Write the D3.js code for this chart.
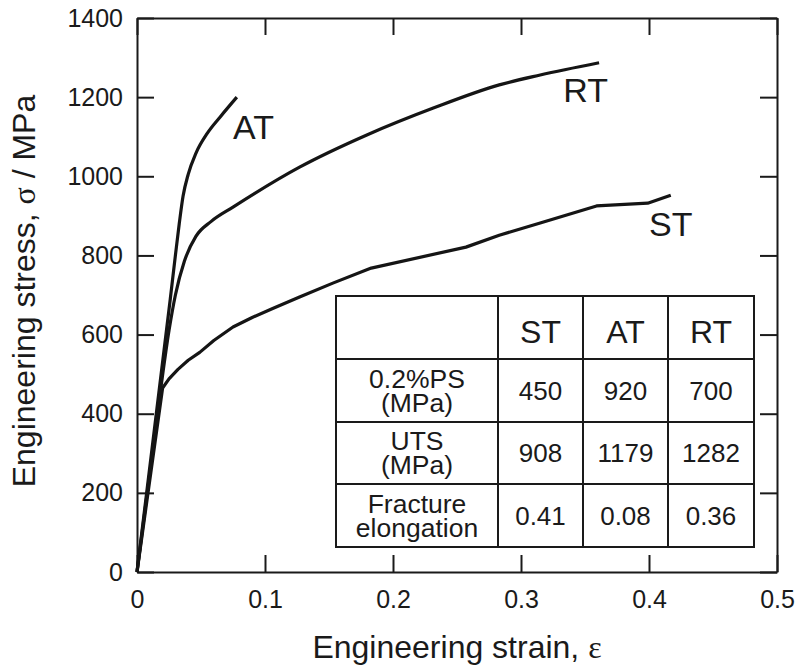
<!DOCTYPE html>
<html>
<head>
<meta charset="utf-8">
<script src="https://cdn.jsdelivr.net/npm/d3@7"></script>
<style>
  body { margin: 0; background: #fff; }
  text { font-family: "Liberation Sans", Arial, Helvetica, sans-serif; fill: #1a1a1a; }
  .greek { font-family: "Liberation Serif", "Times New Roman", serif; }
</style>
</head>
<body>
<svg width="798" height="668"></svg>
<script>
// tick values and labels
const xTicks = [0, 0.1, 0.2, 0.3, 0.4, 0.5];
const xTickLabels = ["0", "0.1", "0.2", "0.3", "0.4", "0.5"];
const yTicks = [0, 200, 400, 600, 800, 1000, 1200, 1400];
const yTickLabels = ["0", "200", "400", "600", "800", "1000", "1200", "1400"];

// stress-strain curves (strain, MPa)
const stStrain = [0, 0.020, 0.025, 0.032, 0.040, 0.049, 0.060, 0.075, 0.090, 0.106, 0.127, 0.153, 0.183, 0.257, 0.283, 0.315, 0.359, 0.399, 0.417];
const stStress = [0, 465, 488, 512, 535, 555, 585, 619, 643, 666, 695, 730, 768, 821, 851, 882, 925, 932, 952];

const atStrain = [0, 0.026, 0.030, 0.033, 0.036, 0.040, 0.046, 0.055, 0.065, 0.078];
const atStress = [0, 690, 800, 880, 950, 1005, 1058, 1109, 1150, 1200];

const rtStrain = [0, 0.018, 0.025, 0.030, 0.037, 0.046, 0.058, 0.075, 0.127, 0.180, 0.232, 0.283, 0.315, 0.361];
const rtStress = [0, 450, 610, 700, 785, 848, 886, 922, 1023, 1105, 1173, 1231, 1256, 1287];

// curve names and where their labels sit (data units)
const curveNames = ["AT", "RT", "ST"];
const labelStrain = [0.075, 0.333, 0.400];
const labelStress = [1094, 1188, 849];

// inset table
const tableCols = ["ST", "AT", "RT"];
const rowLabels = [["0.2%PS", "(MPa)"], ["UTS", "(MPa)"], ["Fracture", "elongation"]];
const psValues = ["450", "920", "700"];
const utsValues = ["908", "1179", "1282"];
const elongValues = ["0.41", "0.08", "0.36"];

const svg = d3.select("svg");
const plotL = 137, plotR = 777, plotT = 18, plotB = 572;

const x = d3.scaleLinear().domain([0, 0.5]).range([plotL, plotR]);
const y = d3.scaleLinear().domain([0, 1400]).range([plotB, plotT]);

// axes, ticks pointing inward on all four sides
function styleAxis(g) {
  g.selectAll("path.domain").attr("stroke", "#1a1a1a").attr("stroke-width", 2);
  g.selectAll(".tick line").attr("stroke", "#1a1a1a").attr("stroke-width", 2);
  g.selectAll(".tick text").attr("font-size", 25).attr("fill", "#1a1a1a")
    .attr("font-family", "Liberation Sans, Arial, sans-serif");
}

svg.append("g")
  .attr("transform", `translate(0,${plotB})`)
  .call(d3.axisBottom(x).tickValues(xTicks).tickFormat((d, i) => xTickLabels[i])
    .tickSizeInner(-17).tickSizeOuter(0).tickPadding(18))
  .call(styleAxis);

svg.append("g")
  .attr("transform", `translate(${plotL},0)`)
  .call(d3.axisLeft(y).tickValues(yTicks).tickFormat((d, i) => yTickLabels[i])
    .tickSizeInner(-17).tickSizeOuter(0).tickPadding(14))
  .call(styleAxis);

svg.append("g")
  .attr("transform", `translate(0,${plotT})`)
  .call(d3.axisTop(x).tickValues(xTicks).tickFormat("")
    .tickSizeInner(-17).tickSizeOuter(0))
  .call(styleAxis);

svg.append("g")
  .attr("transform", `translate(${plotR},0)`)
  .call(d3.axisRight(y).tickValues(yTicks).tickFormat("")
    .tickSizeInner(-17).tickSizeOuter(0))
  .call(styleAxis);

// curves: ST drawn as a polyline, AT and RT smoothed
const curves = [
  { pts: d3.zip(stStrain, stStress), curve: d3.curveLinear },
  { pts: d3.zip(atStrain, atStress), curve: d3.curveMonotoneX },
  { pts: d3.zip(rtStrain, rtStress), curve: d3.curveMonotoneX }
];
svg.append("g")
  .selectAll("path")
  .data(curves)
  .join("path")
    .attr("d", c => d3.line().x(d => x(d[0])).y(d => y(d[1])).curve(c.curve)(c.pts))
    .attr("fill", "none")
    .attr("stroke", "#151515")
    .attr("stroke-width", 3.2)
    .attr("stroke-linejoin", "round");

svg.append("g")
  .selectAll("text")
  .data(curveNames)
  .join("text")
    .attr("x", (d, i) => x(labelStrain[i]))
    .attr("y", (d, i) => y(labelStress[i]))
    .attr("font-size", 34)
    .text(d => d);

// table
const colX = [336, 498, 583, 668, 754];
const rowY = [296, 359, 422, 484, 547];
const tbl = svg.append("g");
tbl.append("rect")
  .attr("x", colX[0]).attr("y", rowY[0])
  .attr("width", colX[4] - colX[0]).attr("height", rowY[4] - rowY[0])
  .attr("fill", "#fff").attr("stroke", "#1a1a1a").attr("stroke-width", 2);
colX.slice(1, 4).forEach(cx => tbl.append("line")
  .attr("x1", cx).attr("x2", cx).attr("y1", rowY[0]).attr("y2", rowY[4])
  .attr("stroke", "#1a1a1a").attr("stroke-width", 2));
rowY.slice(1, 4).forEach(ry => tbl.append("line")
  .attr("x1", colX[0]).attr("x2", colX[4]).attr("y1", ry).attr("y2", ry)
  .attr("stroke", "#1a1a1a").attr("stroke-width", 2));

const colMid = i => (colX[i] + colX[i + 1]) / 2;
const rowMid = i => (rowY[i] + rowY[i + 1]) / 2;

tbl.selectAll("text.head")
  .data(tableCols)
  .join("text")
    .attr("class", "head")
    .attr("x", (d, i) => colMid(i + 1))
    .attr("y", rowMid(0) + 15)
    .attr("text-anchor", "middle")
    .attr("font-size", 32)
    .text(d => d);

[psValues, utsValues, elongValues].forEach((vals, r) => {
  tbl.selectAll("text.v" + r)
    .data(vals)
    .join("text")
      .attr("class", "v" + r)
      .attr("x", (d, i) => colMid(i + 1))
      .attr("y", rowMid(r + 1) + 9)
      .attr("text-anchor", "middle")
      .attr("font-size", 26)
      .text(d => d);
});

rowLabels.forEach((lines, r) => {
  const t = tbl.append("text")
    .attr("text-anchor", "middle")
    .attr("font-size", 26.5);
  lines.forEach((s, k) => t.append("tspan")
    .attr("x", colMid(0))
    .attr("y", rowMid(r + 1) - 12 + 24 * k + 9)
    .text(s));
});

// axis titles
const xt = svg.append("text")
  .attr("x", 457).attr("y", 658)
  .attr("text-anchor", "middle")
  .attr("font-size", 32);
xt.append("tspan").text("Engineering strain, ");
xt.append("tspan").attr("class", "greek").text("ε");

const yt = svg.append("text")
  .attr("transform", "translate(35,291) rotate(-90)")
  .attr("text-anchor", "middle")
  .attr("font-size", 32);
yt.append("tspan").text("Engineering stress, ");
yt.append("tspan").attr("class", "greek").text("σ");
yt.append("tspan").text(" / MPa");
</script>
</body>
</html>
